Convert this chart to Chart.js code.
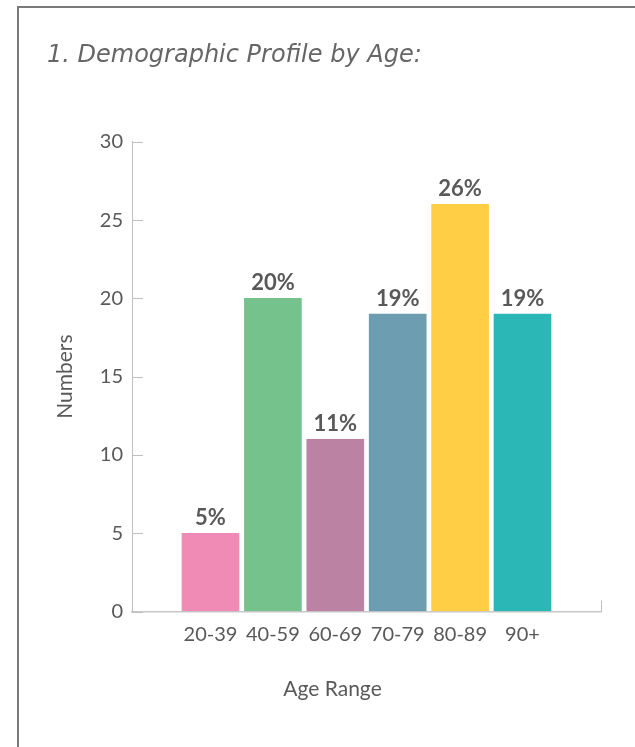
<!DOCTYPE html>
<html>
<head>
<meta charset="utf-8">
<script src="https://cdn.jsdelivr.net/npm/chart.js@4"></script>
<style>
  html, body { margin: 0; padding: 0; background: #fff; overflow: hidden; }
  #frame {
    position: absolute; left: 17px; top: 6px; width: 700px; height: 800px;
    border-left: 2px solid #7a7a7a; border-top: 2px solid #7a7a7a;
  }
  #wrap { position: absolute; left: 0; top: 0; width: 635px; height: 747px; }
</style>
</head>
<body>
<div id="frame"></div>
<div id="wrap"><canvas id="myChart"></canvas></div>
<script>
const categories = ['20-39', '40-59', '60-69', '70-79', '80-89', '90+'];
const values = [5, 20, 11, 19, 26, 19];
const percentLabels = ['5%', '20%', '11%', '19%', '26%', '19%'];
const barColors = ['#f08bb5', '#76c28d', '#bc82a4', '#6c9db0', '#ffce44', '#2bb7b6'];

const FONT = "Lato, 'DejaVu Sans', sans-serif";
const TITLE_FONT = "'DejaVu Sans', sans-serif";
const GREY = '#595959';

// bar value labels above each bar
const barLabels = {
    id: 'barLabels',
    afterDatasetsDraw(chart) {
        const ctx = chart.ctx;
        const meta = chart.getDatasetMeta(0);
        ctx.save();
        ctx.font = 'bold 22px ' + FONT;
        ctx.fillStyle = GREY;
        ctx.textAlign = 'center';
        ctx.textBaseline = 'alphabetic';
        meta.data.forEach((bar, i) => {
            ctx.fillText(percentLabels[i], bar.x, bar.y - 8);
        });
        ctx.restore();
    }
};

// tick marks pointing into the plot, plus the axis caption
const axisExtras = {
    id: 'axisExtras',
    afterDraw(chart) {
        const ctx = chart.ctx;
        const area = chart.chartArea;
        const y = chart.scales.y;
        ctx.save();
        ctx.strokeStyle = '#bfbfbf';
        ctx.lineWidth = 1;
        y.ticks.forEach(t => {
            const py = Math.round(y.getPixelForValue(t.value)) + 0.5;
            ctx.beginPath();
            ctx.moveTo(area.left, py);
            ctx.lineTo(area.left + 11, py);
            ctx.stroke();
        });
        ctx.beginPath();
        ctx.moveTo(Math.round(area.right) + 0.5, area.bottom);
        ctx.lineTo(Math.round(area.right) + 0.5, area.bottom - 11);
        ctx.stroke();

        ctx.font = '21px ' + FONT;
        ctx.fillStyle = GREY;
        ctx.textAlign = 'center';
        ctx.textBaseline = 'middle';
        ctx.fillText('Age Range', (area.left + area.right) / 2 - 34, area.bottom + 78);
        ctx.restore();
    }
};

const data = {
    datasets: [{
        label: 'Numbers',
        data: values.map((v, i) => ({ x: i, y: v })),
        backgroundColor: barColors,
        borderWidth: 0,
        barThickness: 57
    }]
};

const config = {
    type: 'bar',
    data: data,
    options: {
        responsive: true,
        maintainAspectRatio: false,
        animation: false,
        layout: { padding: { left: 47, right: 34, top: 0, bottom: 0 } },
        plugins: {
            legend: { display: false },
            tooltip: { enabled: false },
            title: {
                display: true,
                text: '1. Demographic Profile by Age:',
                align: 'start',
                color: '#666666',
                font: { family: TITLE_FONT, size: 24, style: 'italic', weight: 'normal', lineHeight: 1.2 },
                padding: { top: 41, bottom: 72 }
            }
        },
        scales: {
            x: {
                type: 'linear',
                offset: false,
                min: -1.258,
                max: 6.258,
                afterBuildTicks: s => { s.ticks = categories.map((c, i) => ({ value: i })); },
                afterFit: s => { s.height = 135.5; },
                grid: { display: false, drawTicks: false },
                border: { color: '#c8c8c8', width: 1.5 },
                ticks: {
                    padding: 11,
                    color: GREY,
                    font: { family: FONT, size: 20 },
                    maxRotation: 0,
                    autoSkip: false,
                    callback: v => categories[v]
                }
            },
            y: {
                min: 0,
                max: 30,
                afterFit: s => { s.width = 85; },
                grid: { drawOnChartArea: false, drawTicks: false },
                border: { color: '#bfbfbf', width: 1 },
                ticks: {
                    stepSize: 5,
                    padding: 9,
                    color: GREY,
                    font: { family: FONT, size: 20 }
                },
                title: {
                    display: true,
                    text: 'Numbers',
                    color: GREY,
                    font: { family: FONT, size: 21 },
                    padding: { top: 6, bottom: 0 }
                }
            }
        }
    },
    plugins: [barLabels, axisExtras]
};

const myChart = new Chart(document.getElementById('myChart'), config);
</script>
</body>
</html>
